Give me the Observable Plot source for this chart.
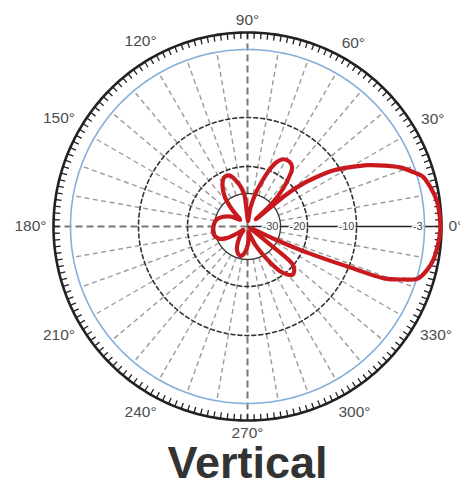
<!DOCTYPE html>
<html><head><meta charset="utf-8">
<script src="https://cdn.jsdelivr.net/npm/d3@7"></script>
<script src="https://cdn.jsdelivr.net/npm/@observablehq/plot@0.6"></script>
<style>body{margin:0;background:#fff;} svg{display:block;}</style>
</head><body><div id="chart"></div>
<script>
// ---- data ----
const title = "Vertical";
const ringLevels = [-30, -20, -10];          // grid rings (dB)
const refLevel = -3;                          // blue reference ring (dB)
const maxLevel = 0;                           // outer ring (dB)
const radialLabels = ["-30", "-20", "-10", "-3"];
const radialLabelLevels = [-30, -20, -10, -3];
const angleLabelValues = [0, 30, 60, 90, 120, 150, 180, 210, 240, 270, 300, 330];
const spokeAngles = d3.range(0, 360, 10).filter(a => a % 90 !== 0);
const axisAngles = [90, 180, 270];
const tickAngles = d3.range(0, 360, 2);

const patternAngles = [0,4,8,12,16,18,21,24,27,30,33,36,38,39.5,41,
  43,47,50,53,57,62,66,69,72,76,81,86,
  92,96,100,104,108,112,116,120,124,128,132,137,
  142,150,158,166,172,180,188,196,203,209,214,218,
  224,230,238,245,251,256,262,268,274,280,
  288,293,298,302,306,310,313,317,320,321.5,323,
  328,334,335,336,337.3,338.3,339.2,341.2,343,346.5,350,353,357];
const patternDb = [-0.2,-0.3,-0.55,-1.2,-2.1,-3.2,-4.3,-5.8,-7.3,-9,-11.2,-15.5,-18.6,-23.7,-38,
  -30,-22.6,-19,-17.1,-16.5,-16.7,-18,-20,-24.4,-29.3,-35,-40,
  -37.6,-30,-27,-24.8,-22.6,-21.9,-22.2,-23.7,-26,-28.9,-33.3,-38.4,
  -37.6,-34.7,-32.5,-30.7,-30,-29.6,-29.3,-29.6,-30.7,-33.3,-37.6,-40,
  -40,-38.4,-35.5,-32.9,-31.5,-31,-31.8,-34,-36.9,-40,
  -38.4,-34.7,-31,-26.7,-21.9,-19.4,-18.8,-19.2,-20.4,-31,-39,
  -41,-40,-31,-20.7,-15,-9.8,-6.2,-4.3,-2.8,-1.6,-0.9,-0.6,-0.3];

// ---- radial scale (log-like antenna grid) ----
const R = d3.scaleLinear()
  .domain([-42, -30, -20, -10, -3, 0])
  .range([0, 33, 60, 109, 177, 194].map(v => v / 194))
  .clamp(true);
const rad = d => d * Math.PI / 180;
const px = (a, r) => r * Math.cos(rad(a));
const py = (a, r) => r * Math.sin(rad(a));
const ring = (r) => d3.range(0, 361, 1).map(a => ({x: px(a, r), y: py(a, r)}));

const pattern = patternAngles.map((a, i) => ({x: px(a, R(patternDb[i])), y: py(a, R(patternDb[i]))}));

const W = 460, H = 482, cx = 247, cy = 226, unit = 194;

// angle labels sit just outside the outer ring, pushed out by their half-extent
const labelFont = 15.5;
const angleLabel = a => a + "°";
const labelDist = a => {
  const t = angleLabel(a);
  const hw = ((t.length - 1) * labelFont * 0.556 + labelFont * 0.4) / 2;
  const hh = labelFont * 0.36;
  return (201 + Math.abs(Math.cos(rad(a))) * hw + Math.abs(Math.sin(rad(a))) * hh) / unit;
};

const chart = Plot.plot({
  width: W, height: H, margin: 0,
  x: {domain: [-cx / unit, (W - cx) / unit], axis: null},
  y: {domain: [-(H - cy) / unit, cy / unit], axis: null},
  style: {background: "#fff", fontFamily: "'Liberation Sans', Arial, sans-serif"},
  marks: [
    // spokes every 10°
    Plot.link(spokeAngles, {
      x1: a => px(a, R(-30)), y1: a => py(a, R(-30)),
      x2: a => px(a, R(refLevel)), y2: a => py(a, R(refLevel)),
      stroke: "#9a9a9a", strokeWidth: 1.4, strokeDasharray: "5,3.5"
    }),
    // main axes
    Plot.link(axisAngles, {
      x1: 0, y1: 0,
      x2: a => px(a, R(maxLevel)), y2: a => py(a, R(maxLevel)),
      stroke: "#777", strokeWidth: 2, strokeDasharray: "7,4"
    }),
    Plot.link([0], {
      x1: 0, y1: 0, x2: a => px(a, R(maxLevel)), y2: a => py(a, R(maxLevel)),
      stroke: "#222", strokeWidth: 1.5
    }),
    // dB rings
    ...ringLevels.map(l => Plot.line(ring(R(l)), {
      x: "x", y: "y", stroke: "#333", strokeWidth: l === -30 ? 1.3 : 1.6,
      strokeDasharray: l === -30 ? null : "4,3"
    })),
    Plot.line(ring(R(refLevel)), {x: "x", y: "y", stroke: "#86aedb", strokeWidth: 1.6}),
    // outer ring + ticks
    Plot.line(ring(R(maxLevel)), {x: "x", y: "y", stroke: "#222", strokeWidth: 2.6}),
    Plot.link(tickAngles, {
      x1: a => px(a, 1), y1: a => py(a, 1),
      x2: a => px(a, 0.968), y2: a => py(a, 0.968),
      stroke: "#222", strokeWidth: 1.3
    }),
    // radial labels
    Plot.text(radialLabelLevels, {
      x: l => R(l), y: 0, text: (l, i) => radialLabels[i],
      textAnchor: "end", dx: -2, fontSize: 11, fill: "#444",
      stroke: "white", strokeWidth: 3
    }),
    // pattern
    Plot.line(pattern, {x: "x", y: "y", curve: "catmull-rom-closed",
      stroke: "#c8191e", strokeWidth: 4.2, strokeLinejoin: "round"}),
    // angle labels
    Plot.text(angleLabelValues, {
      x: a => px(a, labelDist(a)), y: a => py(a, labelDist(a)), text: angleLabel,
      fontSize: labelFont, fill: "#4d4d4d"
    }),
    // title
    Plot.text([title], {
      frameAnchor: "bottom", dx: 17, dy: -5, lineAnchor: "bottom",
      fontSize: 45, fontWeight: "bold", fill: "#333"
    })
  ]
});
document.getElementById("chart").appendChild(chart);
</script>
</body></html>
